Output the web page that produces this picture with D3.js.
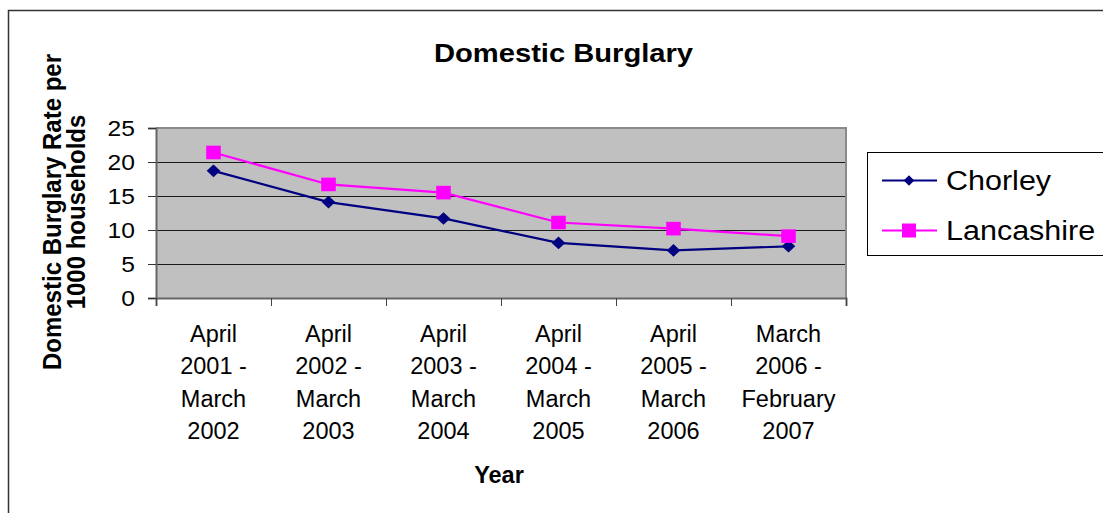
<!DOCTYPE html>
<html>
<head>
<meta charset="utf-8">
<script src="https://cdn.jsdelivr.net/npm/d3@7"></script>
<style>
  html, body { margin: 0; padding: 0; background: #fff; }
  svg { display: block; font-family: "Liberation Sans", Arial, Helvetica, sans-serif; }
</style>
</head>
<body>
<svg id="chart" width="1103" height="513"></svg>
<script>
// Periods on the x axis (one label per line)
const categories = [
  ["April", "2001 -", "March", "2002"],
  ["April", "2002 -", "March", "2003"],
  ["April", "2003 -", "March", "2004"],
  ["April", "2004 -", "March", "2005"],
  ["April", "2005 -", "March", "2006"],
  ["March", "2006 -", "February", "2007"]
];
// Domestic burglaries per 1000 households
const chorley    = [18.7, 14.1, 11.7, 8.1, 7.0, 7.6];
const lancashire = [21.4, 16.7, 15.5, 11.1, 10.2, 9.1];
const yTicks = [0, 5, 10, 15, 20, 25];
const seriesNames = ["Chorley", "Lancashire"];

const svg = d3.select("#chart");
const font = '"Liberation Sans", Arial, Helvetica, sans-serif';

// Outer chart frame
svg.append("rect")
  .attr("x", 8.5).attr("y", 10.5)
  .attr("width", 1200).attr("height", 600)
  .attr("fill", "#fff").attr("stroke", "#333").attr("stroke-width", 1.5);

// Plot area
const plot = { left: 156, right: 846, top: 128, bottom: 298 };

const x = d3.scaleBand()
  .domain(d3.range(categories.length))
  .range([plot.left, plot.right])
  .padding(0);
const xEdge = d3.scaleLinear()
  .domain([0, categories.length])
  .range([plot.left, plot.right]);
const y = d3.scaleLinear()
  .domain([0, 25])
  .range([plot.bottom, plot.top]);

svg.append("rect")
  .attr("x", plot.left).attr("y", plot.top)
  .attr("width", plot.right - plot.left).attr("height", plot.bottom - plot.top)
  .attr("fill", "#c0c0c0");

// Horizontal gridlines
svg.append("g")
  .selectAll("line")
  .data(yTicks.filter(d => d > 0 && d < 25))
  .join("line")
  .attr("x1", plot.left).attr("x2", plot.right)
  .attr("y1", d => Math.round(y(d)) + 0.5).attr("y2", d => Math.round(y(d)) + 0.5)
  .attr("stroke", "#1a1a1a").attr("stroke-width", 1);

// Plot border (top and right)
svg.append("path")
  .attr("d", `M${plot.left},${plot.top} H${plot.right} V${plot.bottom}`)
  .attr("fill", "none").attr("stroke", "#8a8a8a").attr("stroke-width", 2);

// Y axis
const ySx = 1.12;
const yAxis = svg.append("g")
  .attr("transform", `translate(${plot.left},0)`)
  .call(d3.axisLeft(y).tickValues(yTicks).tickSize(8).tickPadding(13).tickFormat(d3.format("d")));
yAxis.select(".domain").attr("stroke", "#666").attr("stroke-width", 2);
yAxis.selectAll(".tick line").attr("stroke", "#333");
yAxis.selectAll(".tick text")
  .attr("x", -21 / ySx)
  .attr("transform", `scale(${ySx},1)`)
  .attr("fill", "#000")
  .style("font-family", font).style("font-size", "22px");

// X axis tick marks between categories
const xTickAxis = svg.append("g")
  .attr("transform", `translate(0,${plot.bottom})`)
  .call(d3.axisBottom(xEdge).tickValues(d3.range(categories.length + 1)).tickSize(8).tickFormat(""));
xTickAxis.select(".domain").attr("stroke", "#666").attr("stroke-width", 2);
xTickAxis.selectAll(".tick line").attr("stroke", "#444");

// X axis category labels
const xLabelAxis = svg.append("g")
  .attr("transform", `translate(0,${plot.bottom})`)
  .call(d3.axisBottom(x).tickSize(0).tickFormat(""));
xLabelAxis.select(".domain").remove();
xLabelAxis.selectAll(".tick text")
  .attr("y", 43.5).attr("dy", 0)
  .attr("fill", "#000")
  .style("font-family", font).style("font-size", "23.5px")
  .each(function(d) {
    const t = d3.select(this);
    categories[d].forEach((line, i) => {
      t.append("tspan").attr("x", 0).attr("dy", i === 0 ? 0 : 32.5).text(line);
    });
  });

// Series lines and markers
const line = d3.line()
  .x((d, i) => x(i) + x.bandwidth() / 2)
  .y(d => y(d));

svg.append("path").datum(chorley)
  .attr("d", line).attr("fill", "none")
  .attr("stroke", "#000080").attr("stroke-width", 2.2);
svg.append("path").datum(lancashire)
  .attr("d", line).attr("fill", "none")
  .attr("stroke", "#ff00ff").attr("stroke-width", 2.2);

const diamond = (cx, cy, w, h) =>
  `M${cx},${cy - h} L${cx + w},${cy} L${cx},${cy + h} L${cx - w},${cy} Z`;

svg.append("g").selectAll("path")
  .data(chorley)
  .join("path")
  .attr("d", (d, i) => diamond(x(i) + x.bandwidth() / 2, y(d), 6.8, 6.3))
  .attr("fill", "#000080");

svg.append("g").selectAll("rect")
  .data(lancashire)
  .join("rect")
  .attr("x", (d, i) => x(i) + x.bandwidth() / 2 - 7.3)
  .attr("y", d => y(d) - 6.8)
  .attr("width", 14.6).attr("height", 13.6)
  .attr("fill", "#ff00ff");

// Title
svg.append("text")
  .attr("transform", "translate(563.5,62) scale(1.1,1)")
  .attr("text-anchor", "middle")
  .style("font-family", font).style("font-size", "26.5px").style("font-weight", "bold")
  .text("Domestic Burglary");

// Y axis title
const yTitle = ["Domestic Burglary Rate per", "1000 households"];
const yTitleX = [61, 85];
yTitle.forEach((t, i) => {
  svg.append("text")
    .attr("transform", `translate(${yTitleX[i]},212) scale(1.1,1) rotate(-90)`)
    .attr("text-anchor", "middle")
    .style("font-family", font).style("font-size", "24px").style("font-weight", "bold")
    .text(t);
});

// X axis title
svg.append("text")
  .attr("x", 499).attr("y", 483)
  .attr("text-anchor", "middle")
  .style("font-family", font).style("font-size", "23.5px").style("font-weight", "bold")
  .text("Year");

// Legend
const legend = svg.append("g");
legend.append("rect")
  .attr("x", 867.5).attr("y", 152.5)
  .attr("width", 236).attr("height", 103)
  .attr("fill", "#fff").attr("stroke", "#000").attr("stroke-width", 1);

const legendColors = ["#000080", "#ff00ff"];
const legendY = [180.5, 230.5];
seriesNames.forEach((name, i) => {
  const ly = legendY[i];
  legend.append("line")
    .attr("x1", 882).attr("x2", 937).attr("y1", ly).attr("y2", ly)
    .attr("stroke", legendColors[i]).attr("stroke-width", 2);
  if (i === 0) {
    legend.append("path").attr("d", diamond(909, ly, 5.3, 5.3)).attr("fill", legendColors[i]);
  } else {
    legend.append("rect").attr("x", 902).attr("y", ly - 7).attr("width", 14).attr("height", 14)
      .attr("fill", legendColors[i]);
  }
  legend.append("text")
    .attr("transform", `translate(946,${ly + 9.5}) scale(1.09,1)`)
    .style("font-family", font).style("font-size", "28px")
    .text(name);
});
</script>
</body>
</html>
